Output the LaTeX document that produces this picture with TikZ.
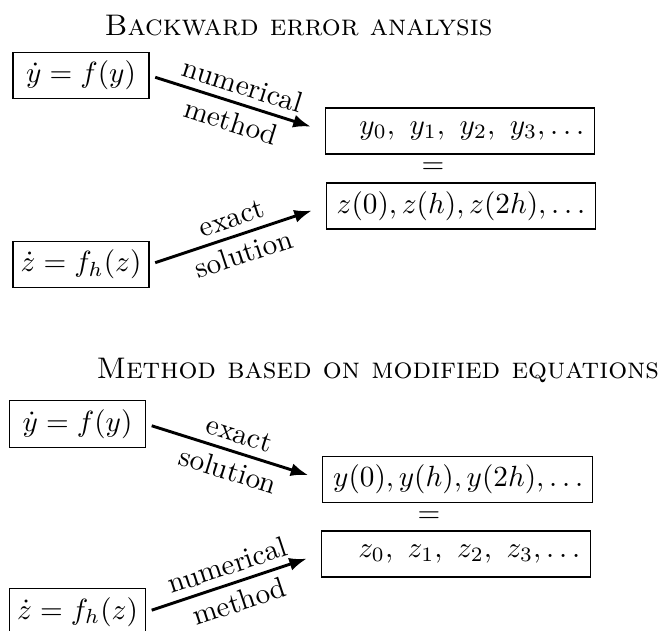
\documentclass[tikz,border=0pt]{standalone}
\usetikzlibrary{arrows.meta}
\newlength\seqw
\begin{document}
\settowidth{\seqw}{$z(0),z(h),z(2h),\dots$}
\begin{tikzpicture}[x=0.3425pt,y=-0.3425pt,
  eqbox/.style={draw, line width=0.4pt, inner sep=0pt, minimum width=46.6pt, minimum height=15.9pt},
  seqbox/.style={draw, line width=0.4pt, inner ysep=0pt, inner xsep=3.6pt, minimum height=15.75pt, text width=\seqw, align=right},
  flow/.style={-{Latex[length=6pt,width=4.5pt]}, line width=1pt, shorten <=2pt, shorten >=5pt},
  lab/.style={sloped, inner sep=2.5pt},
  ttl/.style={anchor=west, font=\fontsize{10.2pt}{12.5pt}\selectfont\scshape, inner sep=0pt}]
\useasboundingbox (0,0) rectangle (664,630);
% top diagram
\node[ttl] (t1) at (104,26) {Backward error analysis};
\node[eqbox] (A1) at (81,75.5) {$\dot y = f(y)$};
\node[seqbox] (B1) at (460,131) {$y_0,\ y_1,\ y_2,\ y_3,\dots$};
\node (e1) at (433,168.5) {$=$};
\node[seqbox] (C1) at (461,206) {$z(0),z(h),z(2h),\dots$};
\node[eqbox] (D1) at (81,264.5) {$\dot z = f_h(z)$};
\draw[flow] (A1.east) -- node[lab, above]{numerical} node[lab, below]{method} (B1.west);
\draw[flow] (D1.east) -- node[lab, above]{exact} node[lab, below]{solution} (C1.west);
% bottom diagram
\node[ttl] (t2) at (96,370) {Method based on modified equations};
\node[eqbox] (A2) at (77.5,424) {$\dot y = f(y)$};
\node[seqbox] (B2) at (457.5,479.5) {$y(0),y(h),y(2h),\dots$};
\node (e2) at (429,517) {$=$};
\node[seqbox] (C2) at (456,554) {$z_0,\ z_1,\ z_2,\ z_3,\dots$};
\node[eqbox] (D2) at (77.5,612) {$\dot z = f_h(z)$};
\draw[flow] (A2.east) -- node[lab, above]{exact} node[lab, below]{solution} (B2.west);
\draw[flow] (D2.east) -- node[lab, above]{numerical} node[lab, below]{method} (C2.west);
\end{tikzpicture}
\end{document}
